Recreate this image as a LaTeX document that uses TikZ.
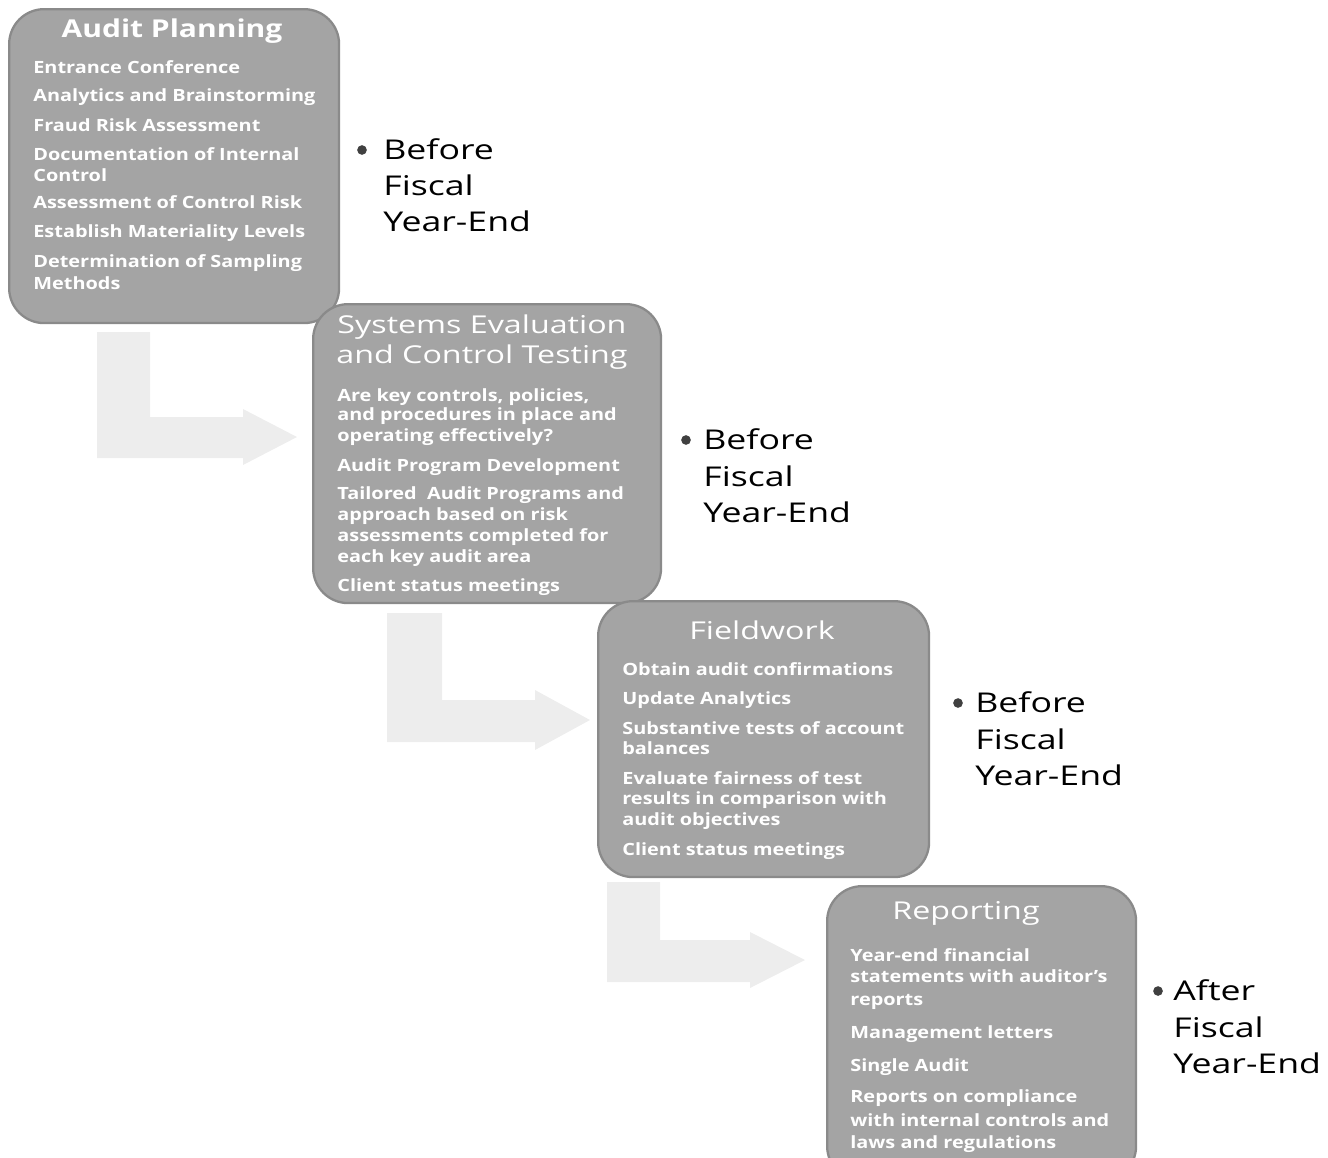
\documentclass[tikz,border=0pt]{standalone}
\usepackage{graphicx}
\usepackage{fontspec}
\setmainfont{Open Sans}
\newcommand\itx[1]{\scalebox{1.18}[1]{#1}}
\newcommand\ttx[1]{\scalebox{1.31}[1]{#1}}
\newcommand\ntx[1]{\scalebox{1.31}[1]{#1}}
\begin{document}
\begin{tikzpicture}[x=0.02cm,y=-0.02cm]
\definecolor{boxgray}{HTML}{A4A4A4}
\definecolor{boxedge}{HTML}{8A8A8A}
\definecolor{arrowgray}{HTML}{EDEDED}
\tikzset{
  box/.style={draw=boxedge, line width=1.3pt, fill=boxgray, rounded corners=0.7cm, anchor=north west, inner sep=0pt},
  ttl/.style={text=white, font=\fontsize{14}{16}\selectfont, anchor=mid, inner sep=0pt},
  item/.style={text=white, font=\bfseries\fontsize{9.6}{11}\selectfont, anchor=mid west, inner sep=0pt},
  note/.style={text=black, font=\fontsize{15.5}{18}\selectfont, anchor=mid west, inner sep=0pt},
  bul/.style={fill=black!75, circle, inner sep=0pt, minimum size=5.5pt},
  bentarrow/.style={fill=arrowgray, draw=none}
}
\useasboundingbox (0,0) rectangle (1328,1157);
\begin{scope}
\clip (0,0) rectangle (1328,1157);
% bent arrows
\fill[bentarrow] (97,332) -- (150,332) -- (150,417) -- (243,417) -- (243,409) -- (297,437) -- (243,465) -- (243,458) -- (97,458) -- cycle;
\fill[bentarrow] (387,613) -- (442,613) -- (442,700) -- (535,700) -- (535,690) -- (590,720) -- (535,750) -- (535,742) -- (387,742) -- cycle;
\fill[bentarrow] (607,882) -- (660,882) -- (660,940) -- (750,940) -- (750,932) -- (805,960) -- (750,988) -- (750,982) -- (607,982) -- cycle;
% boxes
\node[box, minimum width=6.6cm, minimum height=6.28cm] (b1) at (8,8) {};
\node[box, minimum width=6.96cm, minimum height=5.98cm] (b2) at (312,303) {};
\node[box, minimum width=6.62cm, minimum height=5.52cm] (b3) at (597,600) {};
\node[box, minimum width=6.18cm, minimum height=5.9cm] (b4) at (826,885) {};
\end{scope}
% box 1
\node[ttl] (t1) at (172,33) {\scalebox{1.22}[1]{\bfseries Audit Planning}};
\node[item] (i11) at (33,69) {\itx{Entrance Conference}};
\node[item] (i12) at (33,97) {\itx{Analytics and Brainstorming}};
\node[item] (i13) at (33,127) {\itx{Fraud Risk Assessment}};
\node[item] (i14) at (33,156) {\itx{Documentation of Internal}};
\node[item] (i14b) at (33,177) {\itx{Control}};
\node[item] (i15) at (33,204) {\itx{Assessment of Control Risk}};
\node[item] (i16) at (33,233) {\itx{Establish Materiality Levels}};
\node[item] (i17) at (33,263) {\itx{Determination of Sampling}};
\node[item] (i17b) at (33,285) {\itx{Methods}};
% box 2
\node[ttl] (t2a) at (482,329) {\ttx{Systems Evaluation}};
\node[ttl] (t2b) at (482,359) {\ttx{and Control Testing}};
\node[item] (i21) at (337,397) {\itx{Are key controls, policies,}};
\node[item] (i21b) at (337,416) {\itx{and procedures in place and}};
\node[item] (i21c) at (337,437) {\itx{operating effectively?}};
\node[item] (i22) at (337,467) {\itx{Audit Program Development}};
\node[item] (i23) at (337,495) {\itx{Tailored\ \ Audit Programs and}};
\node[item] (i23b) at (337,516) {\itx{approach based on risk}};
\node[item] (i23c) at (337,537) {\itx{assessments completed for}};
\node[item] (i23d) at (337,558) {\itx{each key audit area}};
\node[item] (i24) at (337,587) {\itx{Client status meetings}};
% box 3
\node[ttl] (t3) at (762,635) {\ttx{Fieldwork}};
\node[item] (i31) at (622,671) {\itx{Obtain audit confirmations}};
\node[item] (i32) at (622,700) {\itx{Update Analytics}};
\node[item] (i33) at (622,730) {\itx{Substantive tests of account}};
\node[item] (i33b) at (622,750) {\itx{balances}};
\node[item] (i34) at (622,780) {\itx{Evaluate fairness of test}};
\node[item] (i34b) at (622,800) {\itx{results in comparison with}};
\node[item] (i34c) at (622,821) {\itx{audit objectives}};
\node[item] (i35) at (622,851) {\itx{Client status meetings}};
% box 4
\node[ttl] (t4) at (966,915) {\ttx{Reporting}};
\node[item] (i41) at (850,957) {\itx{Year-end financial}};
\node[item] (i41b) at (850,978) {\itx{statements with auditor's}};
\node[item] (i41c) at (850,1001) {\itx{reports}};
\node[item] (i42) at (850,1034) {\itx{Management letters}};
\node[item] (i43) at (850,1067) {\itx{Single Audit}};
\node[item] (i44) at (850,1098) {\itx{Reports on compliance}};
\node[item] (i44b) at (850,1122) {\itx{with internal controls and}};
\node[item] (i44c) at (850,1144) {\itx{laws and regulations}};
% notes
\node[bul] (d1) at (362,150) {};
\node[note] (n1a) at (383,155) {\ntx{Before}};
\node[note] (n1b) at (383,191) {\ntx{Fiscal}};
\node[note] (n1c) at (383,227) {\ntx{Year-End}};
\node[bul] (d2) at (686,440) {};
\node[note] (n2a) at (703,445) {\ntx{Before}};
\node[note] (n2b) at (703,482) {\ntx{Fiscal}};
\node[note] (n2c) at (703,518) {\ntx{Year-End}};
\node[bul] (d3) at (958,703) {};
\node[note] (n3a) at (975,708) {\ntx{Before}};
\node[note] (n3b) at (975,745) {\ntx{Fiscal}};
\node[note] (n3c) at (975,781) {\ntx{Year-End}};
\node[bul] (d4) at (1158,991) {};
\node[note] (n4a) at (1173,996) {\ntx{After}};
\node[note] (n4b) at (1173,1033) {\ntx{Fiscal}};
\node[note] (n4c) at (1173,1069) {\ntx{Year-End}};
\end{tikzpicture}
\end{document}
